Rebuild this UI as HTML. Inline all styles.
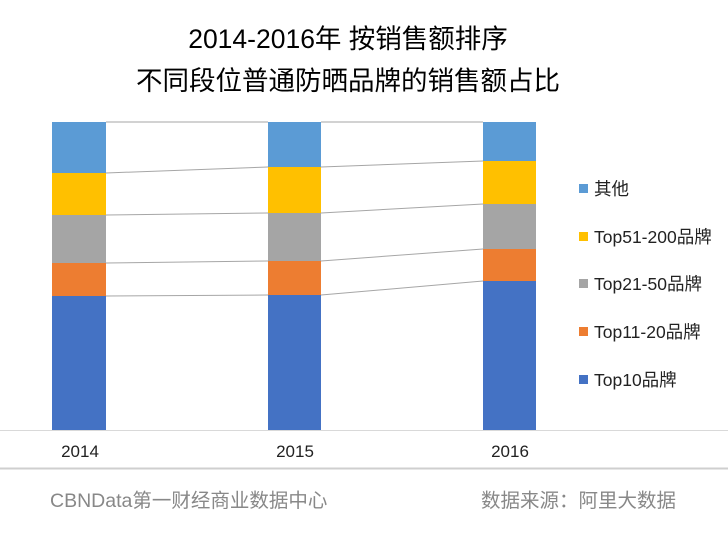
<!DOCTYPE html>
<html><head><meta charset="utf-8"><style>
body{margin:0;width:728px;height:554px;background:#fff;overflow:hidden;position:relative;font-family:"Liberation Sans","Noto Sans CJK SC",sans-serif;}
.t{position:absolute;left:0;width:696px;text-align:center;font-size:26.5px;color:#000;line-height:1;}
.lg{position:absolute;left:579px;font-size:17.5px;color:#222;line-height:1;}
.lg i{display:inline-block;width:9px;height:9px;margin-right:6px;vertical-align:2px;}
.ft{position:absolute;top:492px;font-size:19.5px;color:#888;line-height:1;}
</style></head><body>
<div class="t" style="top:26px">2014-2016年 按销售额排序</div>
<div class="t" style="top:68px">不同段位普通防晒品牌的销售额占比</div>
<svg width="728" height="554" style="position:absolute;left:0;top:0">
<g stroke="#a6a6a6" stroke-width="1">
<line x1="106" y1="122" x2="268" y2="122"/><line x1="321" y1="122" x2="483" y2="122"/>
<line x1="106" y1="173" x2="268" y2="167"/><line x1="321" y1="167" x2="483" y2="161"/>
<line x1="106" y1="215" x2="268" y2="213"/><line x1="321" y1="213" x2="483" y2="204"/>
<line x1="106" y1="263" x2="268" y2="261"/><line x1="321" y1="261" x2="483" y2="249"/>
<line x1="106" y1="296" x2="268" y2="295"/><line x1="321" y1="295" x2="483" y2="281"/>
</g>
<g>
<rect x="52" y="122" width="54" height="51" fill="#5b9bd5"/><rect x="52" y="173" width="54" height="42" fill="#ffc000"/><rect x="52" y="215" width="54" height="48" fill="#a5a5a5"/><rect x="52" y="263" width="54" height="33" fill="#ed7d31"/><rect x="52" y="296" width="54" height="134" fill="#4472c4"/>
<rect x="268" y="122" width="53" height="45" fill="#5b9bd5"/><rect x="268" y="167" width="53" height="46" fill="#ffc000"/><rect x="268" y="213" width="53" height="48" fill="#a5a5a5"/><rect x="268" y="261" width="53" height="34" fill="#ed7d31"/><rect x="268" y="295" width="53" height="135" fill="#4472c4"/>
<rect x="483" y="122" width="53" height="39" fill="#5b9bd5"/><rect x="483" y="161" width="53" height="43" fill="#ffc000"/><rect x="483" y="204" width="53" height="45" fill="#a5a5a5"/><rect x="483" y="249" width="53" height="32" fill="#ed7d31"/><rect x="483" y="281" width="53" height="149" fill="#4472c4"/>
</g>
<line x1="0" y1="430.5" x2="728" y2="430.5" stroke="#d9d9d9" stroke-width="1"/>
<line x1="0" y1="468.5" x2="728" y2="468.5" stroke="#cfcfcf" stroke-width="2"/>
<g font-size="17" fill="#222" text-anchor="middle" font-family="Liberation Sans, sans-serif">
<text x="80" y="457">2014</text><text x="295" y="457">2015</text><text x="510" y="457">2016</text>
</g>
</svg>
<div class="lg" style="top:181px"><i style="background:#5b9bd5"></i>其他</div>
<div class="lg" style="top:229px"><i style="background:#ffc000"></i>Top51-200品牌</div>
<div class="lg" style="top:276px"><i style="background:#a5a5a5"></i>Top21-50品牌</div>
<div class="lg" style="top:324px"><i style="background:#ed7d31"></i>Top11-20品牌</div>
<div class="lg" style="top:372px"><i style="background:#4472c4"></i>Top10品牌</div>
<div class="ft" style="left:50px">CBNData第一财经商业数据中心</div>
<div class="ft" style="left:481px">数据来源：阿里大数据</div>
</body></html>
